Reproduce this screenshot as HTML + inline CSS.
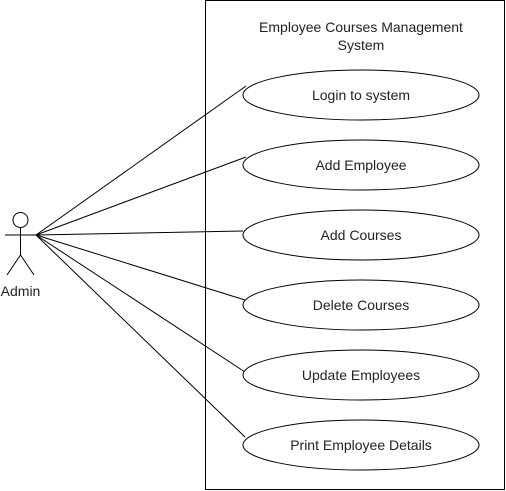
<!DOCTYPE html>
<html><head><meta charset="utf-8"><style>html,body{margin:0;padding:0;background:#fff}</style></head>
<body>
<svg width="506" height="491" xmlns="http://www.w3.org/2000/svg" style="display:block">
<rect width="506" height="491" fill="#fff"/>
<rect x="205.5" y="0.5" width="299" height="489" fill="#fff" stroke="#000" stroke-width="1"/>
<g font-family="Liberation Sans, sans-serif" font-size="14" fill="#222" text-anchor="middle">
<text x="361" y="32">Employee Courses Management</text>
<text x="361" y="50">System</text>
</g>
<g stroke="#000" stroke-width="1" fill="none">
<line x1="36" y1="235" x2="246" y2="86"/>
<line x1="36" y1="235" x2="246" y2="157"/>
<line x1="36" y1="235" x2="243" y2="231"/>
<line x1="36" y1="235" x2="245" y2="300"/>
<line x1="36" y1="235" x2="245" y2="372"/>
<line x1="36" y1="235" x2="245" y2="437"/>
<circle cx="20.5" cy="220" r="7.5" fill="#fff"/>
<line x1="20.5" y1="227.5" x2="20.5" y2="255"/>
<line x1="5" y1="235" x2="36" y2="235"/>
<line x1="20.5" y1="255" x2="7" y2="275"/>
<line x1="20.5" y1="255" x2="34" y2="275"/>
</g>
<g stroke="#000" stroke-width="1" fill="#fff">
<ellipse cx="361" cy="95" rx="118" ry="25"/>
<ellipse cx="361" cy="165" rx="118" ry="25"/>
<ellipse cx="361" cy="235" rx="118" ry="25"/>
<ellipse cx="361" cy="305" rx="118" ry="25"/>
<ellipse cx="361" cy="375" rx="118" ry="25"/>
<ellipse cx="361" cy="445" rx="118" ry="25"/>
</g>
<g font-family="Liberation Sans, sans-serif" font-size="14" fill="#222" text-anchor="middle">
<text x="361" y="100">Login to system</text>
<text x="361" y="170">Add Employee</text>
<text x="361" y="240">Add Courses</text>
<text x="361" y="310">Delete Courses</text>
<text x="361" y="380">Update Employees</text>
<text x="361" y="450">Print Employee Details</text>
<text x="20.5" y="296">Admin</text>
</g>
</svg>
</body></html>
